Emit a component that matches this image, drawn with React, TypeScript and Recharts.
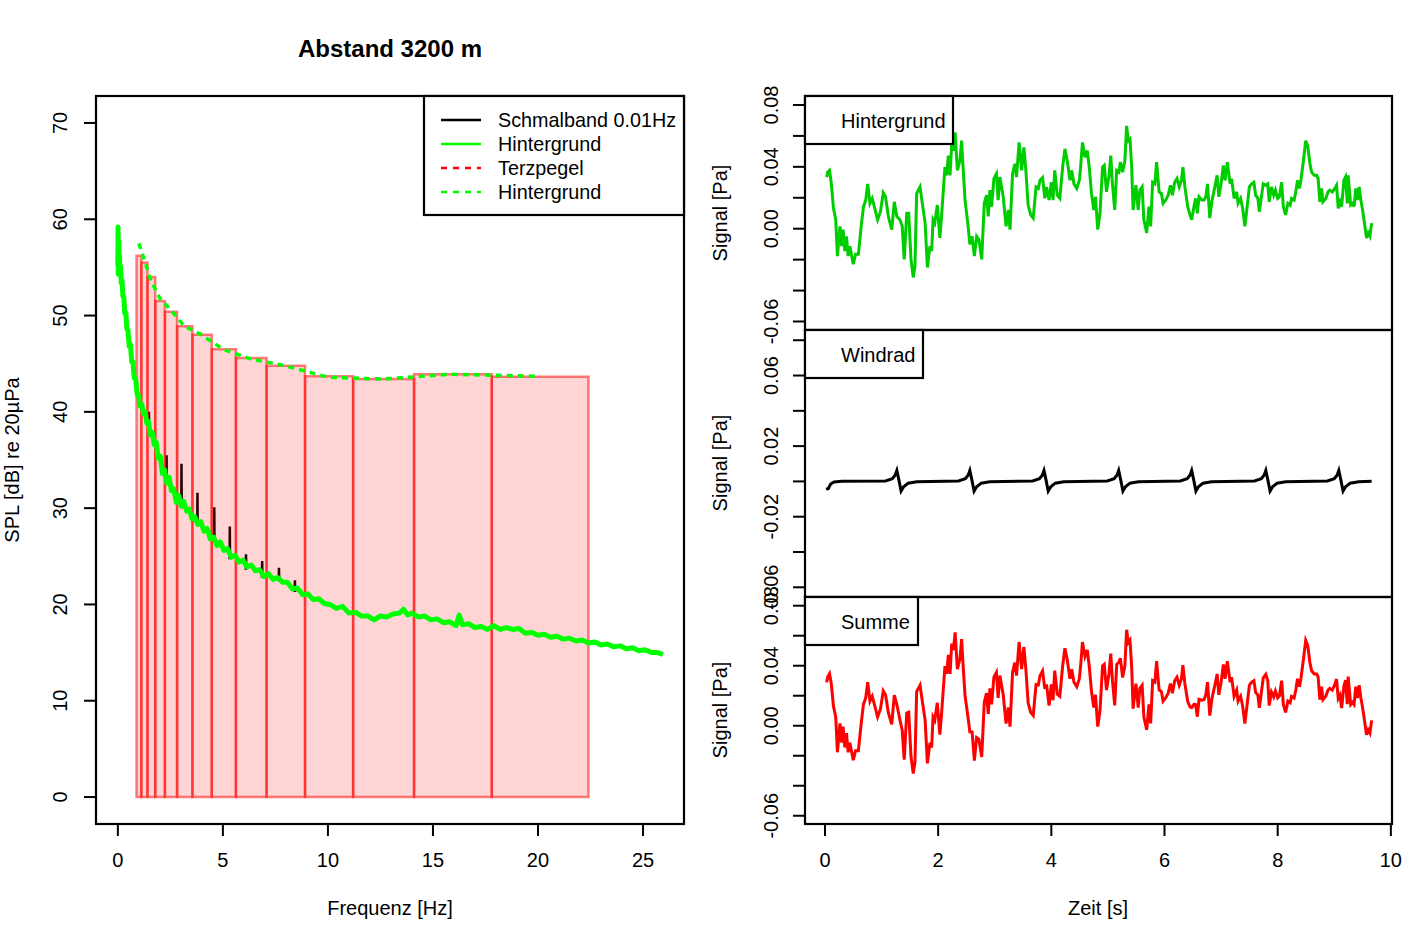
import { ComposedChart, Line, XAxis, YAxis, ReferenceArea } from "recharts";

const FONT = "'Liberation Sans', Arial, Helvetica, sans-serif";

// ---- linkes Diagramm: Spektrum ----
const terzUnten = [0.89, 1.12, 1.41, 1.78, 2.24, 2.82, 3.55, 4.47, 5.62, 7.08, 8.91, 11.2, 14.1, 17.8];
const terzOben = [1.12, 1.41, 1.78, 2.24, 2.82, 3.55, 4.47, 5.62, 7.08, 8.91, 11.2, 14.1, 17.8, 22.4];
const terzPegel = [56.2, 55.5, 54.0, 51.5, 50.4, 48.9, 48.0, 46.5, 45.6, 44.8, 43.7, 43.4, 43.9, 43.65];

const terzMitte = [1.0, 1.26, 1.58, 2.0, 2.51, 3.16, 3.98, 5.01, 6.31, 7.94, 10.0, 12.59, 15.85, 19.95];
const terzHintergrund = [57.5, 55.8, 53.6, 51.8, 50.6, 48.9, 48.0, 46.5, 45.5, 44.8, 43.6, 43.4, 43.9, 43.7];

const gruenF = [
  0, 0.01, 0.02, 0.04, 0.06, 0.08, 0.1, 0.13, 0.16, 0.2, 0.24, 0.28, 0.33, 0.38, 0.43, 0.48, 0.54, 0.6, 0.66, 0.72,
  0.78, 0.85, 0.92, 0.99, 1.06, 1.14, 1.22, 1.3, 1.38, 1.46, 1.55, 1.64, 1.73, 1.82, 1.92, 2.02, 2.12, 2.22, 2.33, 2.44,
  2.55, 2.66, 2.78, 2.9, 3.02, 3.14, 3.27, 3.4, 3.53, 3.67, 3.81, 3.95, 4.1, 4.25, 4.4, 4.56, 4.72, 4.88, 5.05, 5.22,
  5.4, 5.58, 5.77, 5.96, 6.15, 6.35, 6.55, 6.75, 6.96, 7.17, 7.39, 7.61, 7.84, 8.07, 8.31, 8.55, 8.8, 9.05, 9.3, 9.56,
  9.82, 10.1, 10.4, 10.7, 11.0, 11.3, 11.6, 11.9, 12.2, 12.5, 12.8, 13.1, 13.4, 13.6, 13.8, 14.0, 14.3, 14.6, 14.9, 15.2,
  15.5, 15.8, 16.1, 16.25, 16.4, 16.7, 17.0, 17.3, 17.6, 17.9, 18.2, 18.5, 18.8, 19.1, 19.4, 19.7, 20.0, 20.3, 20.6, 20.9,
  21.2, 21.5, 21.8, 22.1, 22.4, 22.7, 23.0, 23.3, 23.6, 23.9, 24.2, 24.5, 24.8, 25.1, 25.4, 25.7, 25.95,
];
const gruenDb = [
  55.2, 59.2, 54.3, 57.8, 55.0, 56.2, 54.6, 55.1, 53.4, 53.6, 52.0, 52.0, 50.2, 50.3, 48.6, 48.5, 46.8, 47.0, 45.2, 45.2,
  43.5, 43.4, 41.8, 41.7, 40.6, 40.8, 39.8, 40.0, 38.8, 39.0, 37.6, 37.9, 36.6, 36.9, 35.2, 35.4, 33.6, 34.0, 32.6, 33.2,
  31.8, 32.0, 30.6, 31.3, 30.2, 30.7, 29.7, 29.9, 28.9, 29.1, 28.3, 28.6, 27.6, 27.9, 26.8, 27.0, 26.1, 26.5, 25.6, 25.8,
  24.9, 25.1, 24.4, 24.6, 23.9, 24.1, 23.5, 23.6, 22.9, 23.2, 22.6, 22.8, 22.3, 22.3, 21.6, 21.7, 21.0, 21.1, 20.5, 20.6,
  20.1, 20.0, 19.6, 19.8, 19.1, 19.2, 18.8, 18.8, 18.4, 18.8, 18.7, 19.0, 19.1, 19.5, 18.9, 19.1, 18.7, 18.8, 18.4, 18.5,
  18.1, 18.2, 17.8, 18.9, 17.9, 18.0, 17.6, 17.7, 17.4, 17.8, 17.4, 17.6, 17.4, 17.5, 17.0, 17.1, 16.8, 16.9, 16.6, 16.7,
  16.4, 16.5, 16.2, 16.3, 16.0, 16.1, 15.8, 15.9, 15.6, 15.7, 15.4, 15.5, 15.2, 15.3, 15.0, 15.0, 14.8,
];

// Windrad-Harmonische im Schmalbandspektrum
const spitzenF = [1.48, 2.32, 3.03, 3.79, 4.59, 5.33, 6.1, 6.87, 7.67, 8.43];
const spitzenDb = [40.0, 35.5, 34.6, 31.6, 30.1, 28.1, 25.2, 24.5, 23.8, 22.5];
const spitzenBasis = [38.4, 32.6, 30.0, 28.2, 26.7, 24.7, 23.6, 22.8, 22.4, 21.3];

const freqTicks = [0, 5, 10, 15, 20, 25];
const splTicks = [0, 10, 20, 30, 40, 50, 60, 70];

// ---- rechte Seite: Zeitsignale ----
const zeit = [
  0.03, 0.05, 0.08, 0.11, 0.15, 0.19, 0.22, 0.265, 0.295, 0.32,
  0.35, 0.38, 0.41, 0.44, 0.5, 0.54, 0.59, 0.64, 0.68, 0.72,
  0.755, 0.795, 0.835, 0.88, 0.93, 0.98, 1.03, 1.07, 1.12, 1.18,
  1.225, 1.27, 1.325, 1.365, 1.4, 1.445, 1.48, 1.52, 1.56, 1.59,
  1.62, 1.68, 1.72, 1.77, 1.81, 1.855, 1.885, 1.91, 1.94, 1.985,
  2.03, 2.06, 2.12, 2.15, 2.18, 2.21, 2.24, 2.27, 2.3, 2.34,
  2.385, 2.415, 2.44, 2.475, 2.53, 2.56, 2.6, 2.64, 2.68, 2.72,
  2.77, 2.815, 2.855, 2.885, 2.915, 2.945, 2.985, 3.03, 3.06, 3.09,
  3.15, 3.2, 3.24, 3.27, 3.315, 3.355, 3.385, 3.43, 3.475, 3.515,
  3.55, 3.59, 3.635, 3.68, 3.73, 3.77, 3.8, 3.845, 3.885, 3.915,
  3.96, 4.0, 4.03, 4.06, 4.105, 4.15, 4.2, 4.24, 4.28, 4.33,
  4.36, 4.4, 4.45, 4.495, 4.52, 4.55, 4.595, 4.635, 4.67, 4.71,
  4.75, 4.78, 4.82, 4.86, 4.905, 4.935, 4.975, 5.02, 5.05, 5.08,
  5.12, 5.155, 5.195, 5.22, 5.26, 5.3, 5.33, 5.36, 5.39, 5.42,
  5.445, 5.495, 5.535, 5.565, 5.605, 5.635, 5.685, 5.725, 5.755, 5.79,
  5.83, 5.86, 5.905, 5.945, 5.975, 6.02, 6.065, 6.105, 6.14, 6.18,
  6.22, 6.26, 6.3, 6.325, 6.36, 6.41, 6.45, 6.48, 6.52, 6.55,
  6.58, 6.61, 6.66, 6.7, 6.73, 6.76, 6.8, 6.84, 6.89, 6.93,
  6.96, 7.0, 7.04, 7.07, 7.11, 7.16, 7.185, 7.23, 7.275, 7.3,
  7.345, 7.38, 7.42, 7.46, 7.5, 7.54, 7.58, 7.61, 7.65, 7.675,
  7.7, 7.745, 7.79, 7.825, 7.85, 7.89, 7.93, 7.96, 8.0, 8.03,
  8.07, 8.1, 8.14, 8.18, 8.22, 8.245, 8.29, 8.32, 8.35, 8.385,
  8.41, 8.455, 8.495, 8.53, 8.57, 8.6, 8.645, 8.69, 8.715, 8.745,
  8.775, 8.8, 8.85, 8.89, 8.92, 8.965, 9.01, 9.04, 9.07, 9.1,
  9.13, 9.17, 9.2, 9.23, 9.245, 9.29, 9.325, 9.35, 9.38, 9.41,
  9.44, 9.47, 9.5, 9.525, 9.57, 9.6, 9.63, 9.66,
];
const hintergrund = [
  0.0334, 0.0366, 0.0377, 0.03, 0.0134, 0.0058, -0.0177, 0.0015, -0.0113, -0.0006,
  -0.0145, -0.005, -0.0177, -0.0113, -0.023, -0.0166, -0.0166, 0.0015, 0.0142, 0.0185,
  0.029, 0.0164, 0.0196, 0.0132, 0.0058, 0.011, 0.0232, 0.0206, 0.0079, -0.0006,
  0.0174, 0.0079, 0.0058, 0.0015, -0.0198, 0.01, 0.01, -0.0198, -0.0315, -0.024,
  0.0228, 0.027, 0.0164, 0.0036, -0.0251, -0.0113, -0.0145, 0.0058, 0.0036, 0.0153,
  -0.006, 0.0079, 0.0398, 0.0345, 0.0473, 0.0345, 0.0548, 0.0505, 0.0622, 0.0377,
  0.0441, 0.0569, 0.0398, 0.0185, 0.0015, -0.0102, -0.0049, -0.0177, -0.0049, -0.007,
  -0.0198, 0.0164, 0.0217, 0.0079, 0.0249, 0.0142, 0.0324, 0.0356, 0.0185, 0.0334,
  0.0206, 0.0015, 0.0121, -0.0006, 0.0356, 0.042, 0.0334, 0.0558, 0.0377, 0.0526,
  0.0377, 0.0153, 0.0089, 0.0068, 0.027, 0.026, 0.0313, 0.033, 0.0196, 0.027,
  0.0185, 0.03, 0.0185, 0.0377, 0.0217, 0.0196, 0.0398, 0.0516, 0.0441, 0.0313,
  0.0377, 0.029, 0.026, 0.0313, 0.0409, 0.0558, 0.0462, 0.0505, 0.0398, 0.0228,
  0.0121, 0.0206, -0.0006, 0.01, 0.0398, 0.0409, 0.0238, 0.0345, 0.0473, 0.029,
  0.0121, 0.0377, 0.0366, 0.043, 0.0366, 0.0441, 0.0665, 0.0569, 0.058, 0.0398,
  0.0121, 0.0281, 0.0121, 0.0249, 0.027, 0.0058, -0.0027, 0.0142, 0.0015, 0.03,
  0.029, 0.043, 0.0238, 0.0228, 0.0164, 0.0185, 0.0217, 0.0281, 0.0217, 0.03,
  0.0324, 0.027, 0.0313, 0.0398, 0.027, 0.0142, 0.009, 0.0058, 0.0142, 0.0196,
  0.01, 0.0206, 0.0185, 0.0185, 0.0206, 0.029, 0.0068, 0.0185, 0.027, 0.0345,
  0.0206, 0.029, 0.0409, 0.0313, 0.043, 0.029, 0.0324, 0.0196, 0.0238, 0.0164,
  0.0196, 0.0132, 0.0015, 0.0142, 0.027, 0.029, 0.03, 0.0217, 0.0196, 0.011,
  0.0174, 0.029, 0.0281, 0.029, 0.0174, 0.027, 0.0217, 0.0249, 0.0196, 0.0206,
  0.03, 0.0142, 0.0089, 0.0164, 0.0153, 0.0196, 0.0185, 0.0238, 0.0313, 0.026,
  0.0313, 0.0441, 0.0569, 0.0537, 0.042, 0.0366, 0.0345, 0.0345, 0.0324, 0.0174,
  0.026, 0.0174, 0.0196, 0.0238, 0.0249, 0.0238, 0.026, 0.0281, 0.0132, 0.0174,
  0.0142, 0.0313, 0.0334, 0.0164, 0.0345, 0.0153, 0.0164, 0.0142, 0.026, 0.0185,
  0.027, 0.0185, 0.0121, 0.0058, -0.006, -0.0027, -0.0049, 0.0036,
];
const summe = [
  0.0289, 0.0326, 0.0347, 0.0285, 0.0129, 0.0058, -0.0177, 0.0015, -0.0113, -0.0006,
  -0.0145, -0.005, -0.0177, -0.0113, -0.023, -0.0166, -0.0166, 0.0015, 0.0142, 0.0185,
  0.029, 0.0164, 0.0196, 0.0132, 0.0058, 0.011, 0.0232, 0.0206, 0.0087, 0.0009,
  0.0204, 0.0141, 0.0038, -0.003, -0.0226, 0.0085, 0.009, -0.0205, -0.0318, -0.0242,
  0.0228, 0.027, 0.0164, 0.0036, -0.0251, -0.0113, -0.0145, 0.0058, 0.0036, 0.0153,
  -0.006, 0.0079, 0.0398, 0.0345, 0.0473, 0.0345, 0.0548, 0.0505, 0.0622, 0.0377,
  0.0446, 0.0577, 0.0408, 0.02, 0.005, -0.004, -0.0041, -0.0232, -0.0079, -0.009,
  -0.0208, 0.0157, 0.0217, 0.0079, 0.0249, 0.0142, 0.0324, 0.0356, 0.0185, 0.0334,
  0.0206, 0.0015, 0.0121, -0.0006, 0.0356, 0.042, 0.0334, 0.0558, 0.0377, 0.0526,
  0.0377, 0.0153, 0.0089, 0.0068, 0.0275, 0.0272, 0.0333, 0.0365, 0.0246, 0.0275,
  0.0135, 0.0275, 0.017, 0.0367, 0.021, 0.0196, 0.0398, 0.0516, 0.0441, 0.0313,
  0.0377, 0.029, 0.026, 0.0313, 0.0409, 0.0558, 0.0462, 0.0505, 0.0398, 0.0228,
  0.0121, 0.0206, -0.0006, 0.01, 0.0398, 0.0409, 0.0238, 0.035, 0.0481, 0.03,
  0.0136, 0.0407, 0.0426, 0.045, 0.0321, 0.0401, 0.064, 0.0554, 0.057, 0.039,
  0.0114, 0.0281, 0.0121, 0.0249, 0.027, 0.0058, -0.0027, 0.0142, 0.0015, 0.03,
  0.029, 0.043, 0.0238, 0.0228, 0.0164, 0.0185, 0.0217, 0.0281, 0.0217, 0.03,
  0.0324, 0.027, 0.0313, 0.0403, 0.028, 0.0162, 0.0125, 0.012, 0.0142, 0.0141,
  0.006, 0.0176, 0.017, 0.0175, 0.0206, 0.029, 0.0068, 0.0185, 0.027, 0.0345,
  0.0206, 0.029, 0.0409, 0.0313, 0.043, 0.029, 0.0324, 0.0196, 0.0238, 0.0164,
  0.0196, 0.0132, 0.0015, 0.0142, 0.027, 0.029, 0.03, 0.0222, 0.0204, 0.012,
  0.0186, 0.032, 0.0343, 0.03, 0.0134, 0.0225, 0.0192, 0.0231, 0.0186, 0.0198,
  0.03, 0.0142, 0.0089, 0.0164, 0.0153, 0.0196, 0.0185, 0.0238, 0.0313, 0.026,
  0.0313, 0.0441, 0.0569, 0.0537, 0.042, 0.0366, 0.0345, 0.0345, 0.0324, 0.0174,
  0.026, 0.0174, 0.0196, 0.0238, 0.0249, 0.0238, 0.0275, 0.0311, 0.0182, 0.0204,
  0.0117, 0.0263, 0.0304, 0.0144, 0.0327, 0.0141, 0.0156, 0.0142, 0.026, 0.0185,
  0.027, 0.0185, 0.0121, 0.0058, -0.006, -0.0027, -0.0049, 0.0036,
];

const zeitWind = [
  0.02, 0.06, 0.1, 0.16, 0.3,
  1.07, 1.19, 1.24, 1.27, 1.305, 1.345, 1.39, 1.47, 1.62,
  2.36, 2.48, 2.53, 2.56, 2.595, 2.635, 2.68, 2.76, 2.91,
  3.67, 3.79, 3.84, 3.87, 3.905, 3.945, 3.99, 4.07, 4.22,
  4.99, 5.11, 5.16, 5.19, 5.225, 5.265, 5.31, 5.39, 5.54,
  6.28, 6.4, 6.45, 6.48, 6.515, 6.555, 6.6, 6.68, 6.83,
  7.59, 7.71, 7.76, 7.79, 7.825, 7.865, 7.91, 7.99, 8.14,
  8.88, 9.0, 9.05, 9.08, 9.115, 9.155, 9.2, 9.28, 9.43,
  9.66,
];
const windrad = [
  -0.0045, -0.004, -0.0015, -0.0003, 0.0001,
  0.0003, 0.0015, 0.0035, 0.0062, 0.001, -0.0055, -0.003, -0.001, -0.0002,
  0.0003, 0.0015, 0.0035, 0.0062, 0.001, -0.0055, -0.003, -0.001, -0.0002,
  0.0003, 0.0015, 0.0035, 0.0062, 0.001, -0.0055, -0.003, -0.001, -0.0002,
  0.0003, 0.0015, 0.0035, 0.0062, 0.001, -0.0055, -0.003, -0.001, -0.0002,
  0.0003, 0.0015, 0.0035, 0.0062, 0.001, -0.0055, -0.003, -0.001, -0.0002,
  0.0003, 0.0015, 0.0035, 0.0062, 0.001, -0.0055, -0.003, -0.001, -0.0002,
  0.0003, 0.0015, 0.0035, 0.0062, 0.001, -0.0055, -0.003, -0.001, -0.0002,
  0.0001,
];

const zeitTicks = [0, 2, 4, 6, 8, 10];
const signalTicks = [-0.06, -0.04, -0.02, 0, 0.02, 0.04, 0.06, 0.08];
const labelsOben = ["0.08", "0.04", "0.00", "-0.06"];
const labelsMitte = ["0.06", "0.02", "-0.02", "-0.06"];

// Tabellen für Recharts
const gruenData = gruenF.map((f, i) => ({ f, db: gruenDb[i] }));
const terzHgData = terzMitte.map((f, i) => ({ f, db: terzHintergrund[i] }));
const schmalData = spitzenF.flatMap((f, i) => [
  { f: f - 0.01, db: spitzenBasis[i] },
  { f, db: spitzenDb[i] },
  { f: f + 0.01, db: spitzenBasis[i] },
  { f: f + 0.02, db: null },
]);
const hgData = zeit.map((t, i) => ({ t, v: hintergrund[i] }));
const summeData = zeit.map((t, i) => ({ t, v: summe[i] }));
const windData = zeitWind.map((t, i) => ({ t, v: windrad[i] }));

const tickLine = { stroke: "#000", strokeWidth: 2 };

function rotTick(labels: string[] | null, digits: number) {
  return (props: any) => {
    const { x, y, payload } = props;
    const s = digits ? Number(payload.value).toFixed(digits) : String(payload.value);
    if (labels && !labels.includes(s)) return <g />;
    return (
      <text x={x} y={y} transform={`rotate(-90 ${x} ${y})`} textAnchor="middle" fontSize={20} fontFamily={FONT} fill="#000">
        {s}
      </text>
    );
  };
}

const xTick = (props: any) => {
  const { x, y, payload } = props;
  return (
    <text x={x} y={y} dy="0.71em" textAnchor="middle" fontSize={20} fontFamily={FONT} fill="#000">
      {payload.value}
    </text>
  );
};

const SIGNAL_DOMAIN = [-0.0655, 0.0858];
const ZEIT_DOMAIN = [-0.353, 10.02];

function SignalPanel(props: {
  top: number;
  height: number;
  margin: { top: number; bottom: number };
  data: { t: number; v: number }[];
  color: string;
  labels: string[];
  showX: boolean;
}) {
  const { top, height, margin, data, color, labels, showX } = props;
  return (
    <div style={{ position: "absolute", left: 700, top }}>
      <ComposedChart width={717} height={height} margin={{ top: margin.top, bottom: margin.bottom, left: 60, right: 25 }}>
        <XAxis
          dataKey="t"
          type="number"
          domain={ZEIT_DOMAIN}
          allowDataOverflow
          ticks={zeitTicks}
          interval={0}
          hide={!showX}
          height={60}
          axisLine={false}
          tickLine={tickLine}
          tickSize={12}
          tickMargin={17}
          tick={xTick}
        />
        <YAxis
          type="number"
          domain={SIGNAL_DOMAIN}
          allowDataOverflow
          ticks={signalTicks}
          interval={0}
          width={45}
          axisLine={false}
          tickLine={tickLine}
          tickSize={12}
          tickMargin={15}
          tick={rotTick(labels, 2)}
        />
        <Line data={data} dataKey="v" stroke={color} strokeWidth={3} dot={false} isAnimationActive={false} />
      </ComposedChart>
    </div>
  );
}

export default function App() {
  return (
    <div style={{ position: "absolute", left: 0, top: 0, width: 1417, height: 944, background: "#fff", fontFamily: FONT }}>
      {/* Spektrum */}
      <div style={{ position: "absolute", left: 0, top: 0 }}>
        <ComposedChart width={700} height={944} margin={{ top: 96, right: 16, bottom: 60, left: 56 }}>
          <XAxis
            dataKey="f"
            type="number"
            domain={[-1.04, 26.95]}
            allowDataOverflow
            ticks={freqTicks}
            interval={0}
            height={60}
            axisLine={false}
            tickLine={tickLine}
            tickSize={12}
            tickMargin={17}
            tick={xTick}
          />
          <YAxis
            type="number"
            domain={[-2.8, 72.8]}
            allowDataOverflow
            ticks={splTicks}
            interval={0}
            width={40}
            axisLine={false}
            tickLine={tickLine}
            tickSize={12}
            tickMargin={17}
            tick={rotTick(null, 0)}
          />
          <Line
            data={schmalData}
            dataKey="db"
            stroke="#000"
            strokeWidth={2.5}
            dot={false}
            connectNulls={false}
            isAnimationActive={false}
            zIndex={50}
          />
          {terzUnten.map((u, i) => (
            <ReferenceArea
              key={i}
              x1={u}
              x2={terzOben[i]}
              y1={0}
              y2={terzPegel[i]}
              fill="#ff0000"
              fillOpacity={0.17}
              stroke="#ff0000"
              strokeOpacity={0.5}
              strokeWidth={2.5}
              ifOverflow="visible"
            />
          ))}
          <Line
            data={gruenData}
            dataKey="db"
            stroke="#00ff00"
            strokeWidth={5}
            strokeLinejoin="round"
            dot={false}
            isAnimationActive={false}
          />
          <Line
            data={terzHgData}
            dataKey="db"
            stroke="#00ff00"
            strokeWidth={3.5}
            strokeDasharray="6 5"
            dot={false}
            isAnimationActive={false}
          />
        </ComposedChart>
      </div>

      {/* Zeitsignale */}
      <SignalPanel top={60} height={300} margin={{ top: 36, bottom: 30 }} data={hgData} color="#00cd00" labels={labelsOben} showX={false} />
      <SignalPanel top={300} height={330} margin={{ top: 30, bottom: 33 }} data={windData} color="#000" labels={labelsMitte} showX={false} />
      <SignalPanel top={560} height={384} margin={{ top: 37, bottom: 60 }} data={summeData} color="#ff0000" labels={labelsOben} showX={true} />

      {/* Rahmen, Titel, Legenden */}
      <svg width={1417} height={944} style={{ position: "absolute", left: 0, top: 0, pointerEvents: "none" }} fontFamily={FONT}>
        <text x={390} y={57} textAnchor="middle" fontSize={24} fontWeight="bold">Abstand 3200 m</text>
        <rect x={96} y={96} width={588} height={728} fill="none" stroke="#000" strokeWidth={2.2} />
        <text x={390} y={915} textAnchor="middle" fontSize={20}>Frequenz [Hz]</text>
        <text x={19} y={460} transform="rotate(-90 19 460)" textAnchor="middle" fontSize={20}>SPL [dB] re 20µPa</text>

        <rect x={424} y={96} width={260} height={119} fill="#fff" stroke="#000" strokeWidth={2.2} />
        <line x1={441} x2={481} y1={120} y2={120} stroke="#000" strokeWidth={2.5} />
        <line x1={441} x2={481} y1={144} y2={144} stroke="#00ff00" strokeWidth={2.5} />
        <line x1={441} x2={481} y1={168} y2={168} stroke="#ff0000" strokeWidth={2.5} strokeDasharray="6 6" />
        <line x1={441} x2={481} y1={192} y2={192} stroke="#00ff00" strokeWidth={2.5} strokeDasharray="6 6" />
        <text x={498} y={127} fontSize={19.8}>Schmalband 0.01Hz</text>
        <text x={498} y={151} fontSize={19.8}>Hintergrund</text>
        <text x={498} y={175} fontSize={19.8}>Terzpegel</text>
        <text x={498} y={199} fontSize={19.8}>Hintergrund</text>

        <rect x={805} y={96} width={587} height={234} fill="none" stroke="#000" strokeWidth={2.2} />
        <rect x={805} y={330} width={587} height={267} fill="none" stroke="#000" strokeWidth={2.2} />
        <rect x={805} y={597} width={587} height={227} fill="none" stroke="#000" strokeWidth={2.2} />

        <rect x={805} y={96} width={148} height={48} fill="#fff" stroke="#000" strokeWidth={2.2} />
        <text x={841} y={128} fontSize={20}>Hintergrund</text>
        <rect x={805} y={330} width={118} height={48} fill="#fff" stroke="#000" strokeWidth={2.2} />
        <text x={841} y={362} fontSize={20}>Windrad</text>
        <rect x={805} y={597} width={113} height={48} fill="#fff" stroke="#000" strokeWidth={2.2} />
        <text x={841} y={629} fontSize={20}>Summe</text>

        <text x={727} y={213} transform="rotate(-90 727 213)" textAnchor="middle" fontSize={20}>Signal [Pa]</text>
        <text x={727} y={463} transform="rotate(-90 727 463)" textAnchor="middle" fontSize={20}>Signal [Pa]</text>
        <text x={727} y={710} transform="rotate(-90 727 710)" textAnchor="middle" fontSize={20}>Signal [Pa]</text>
        <text x={1098} y={915} textAnchor="middle" fontSize={20}>Zeit [s]</text>
      </svg>
    </div>
  );
}
